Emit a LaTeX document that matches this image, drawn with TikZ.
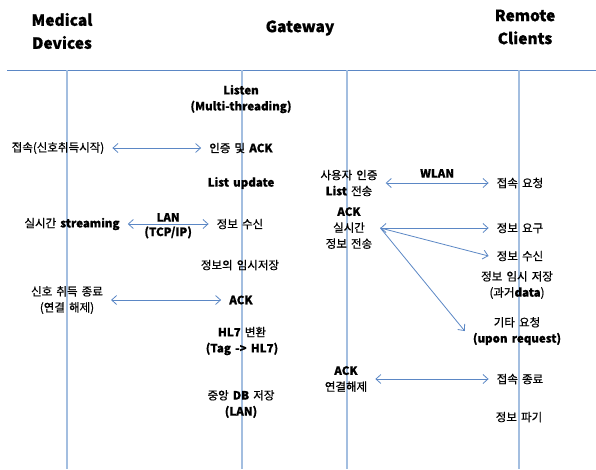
\documentclass[tikz,border=0pt]{standalone}
\usepackage{fontspec}
\setmainfont{Noto Sans CJK KR}[FakeBold=0.7, WordSpace=1.6]
\usetikzlibrary{arrows.meta}
\definecolor{laneblue}{HTML}{A3BEE0}
\definecolor{arrowblue}{HTML}{5B87C5}
\newcommand{\en}[1]{\textbf{#1}}

\begin{document}
\begin{tikzpicture}[x=1pt,y=-1pt, >={Straight Barb[length=5pt,width=9pt]}]

      \useasboundingbox (0,0) rectangle (596,469);

      % lanes
      \draw[arrowblue, line width=1pt] (7,70) -- (596,70);
      \foreach \x in {67,242,347,519}
        \draw[laneblue, line width=1.2pt] (\x,70) -- (\x,469);

      \begin{scope}[every node/.style={font=\fontsize{15.5}{23}\selectfont\bfseries, align=center}]
        \node (h1) at (62,31)  {Medical\\Devices};
        \node (h2) at (300,28) {Gateway};
        \node (h3) at (525,27) {Remote\\Clients};
      \end{scope}

      \begin{scope}[every node/.style={font=\fontsize{11.5}{16}\selectfont, align=center,
                                       inner xsep=8pt, inner ysep=2pt}]
        \node (1)  at (241,99)  {\en{Listen}\\\en{(Multi-threading)}};
        \node (2)  at (241,148) {인증 및 \en{ACK}};
        \node (3)  at (241,183) {\en{List update}};
        \node (4)  at (240,224) {정보 수신};
        \node (5)  at (240,265) {정보의 임시저장};
        \node (6)  at (241,300) {\en{ACK}};
        \node (7)  at (242,341) {\en{HL7} 변환\\\en{(Tag -> HL7)}};
        \node (8)  at (241,404) {중앙 \en{DB} 저장\\\en{(LAN)}};
        \node (9)  at (58,148)  {접속(신호취득시작)};
        \node (10) at (72,224)  {실시간 \en{streaming}};
        \node (11) at (67,300)  {신호 취득 종료\\(연결 해제)};
        \node (12) at (349,183) {사용자 인증\\\en{List} 전송};
        \node (13) at (349,228) {\en{ACK}\\실시간\\정보 전송};
        \node (14) at (346,379) {\en{ACK}\\연결해제};
        \node (15) at (520,183) {접속 요청};
        \node (16) at (520,228) {정보 요구};
        \node (17) at (520,256) {정보 수신};
        \node (18) at (517,285) {정보 임시 저장\\(과거\en{data})};
        \node (19) at (517,331) {기타 요청\\\en{(upon request)}};
        \node (20) at (520,379) {접속 종료};
        \node (21) at (519,417) {정보 파기};
      \end{scope}

      \begin{scope}[every node/.style={font=\fontsize{11.5}{16}\selectfont\bfseries, text=black, inner sep=2pt}]

        \begin{scope}[every edge/.style={draw, arrowblue, line width=0.8pt}]
          \path (9)  edge[<->] (2);
          \path (10) edge[<->] node[above] {LAN} node[below] {(TCP/IP)} (4);
          \path (11) edge[<->] (6);
          \path (12) edge[<->] node[above=3pt] {WLAN} (15);
          \path (13) edge[<->] (16);
          \path (13.east) edge[->] (17.west);
          \path (13.east) edge[->] (19.west);
          \path (14) edge[<->] (20);
        \end{scope}
      \end{scope}

    \end{tikzpicture}
\end{document}
